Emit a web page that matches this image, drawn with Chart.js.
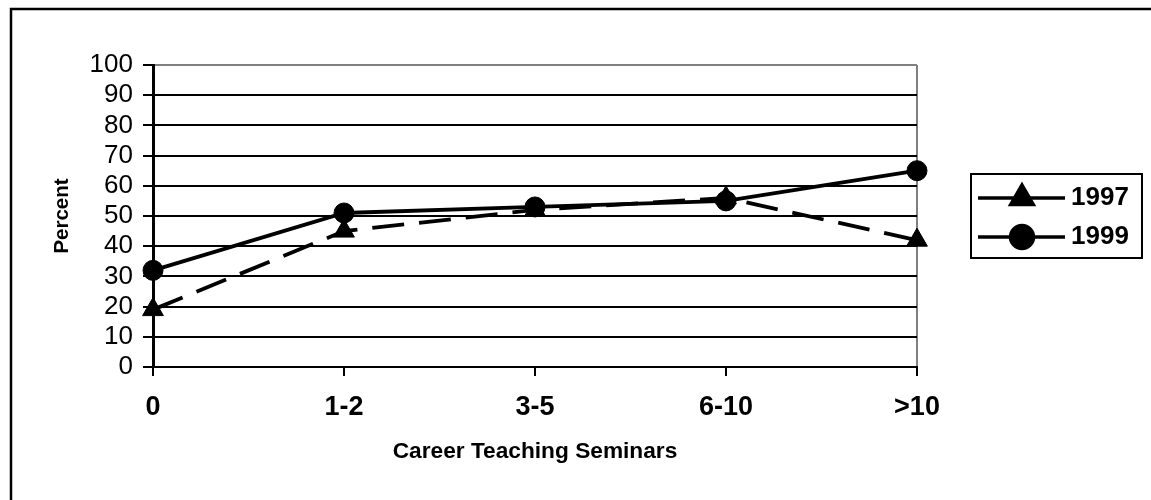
<!DOCTYPE html>
<html>
<head>
<meta charset="utf-8">
<script src="https://cdn.jsdelivr.net/npm/chart.js@4.4.1/dist/chart.umd.min.js"></script>
<style>
  html, body { margin: 0; padding: 0; background: #fff; }
  #wrap { width: 1151px; height: 500px; position: relative; }
</style>
</head>
<body>
<div id="wrap"><canvas id="c" width="1151" height="500"></canvas></div>
<script>
// Share of respondents by number of career teaching seminars attended
const categories = ['0', '1-2', '3-5', '6-10', '>10'];
const series1997 = [19, 45, 52, 56, 42];
const series1999 = [32, 51, 53, 55, 65];
const yTicks = [0, 10, 20, 30, 40, 50, 60, 70, 80, 90, 100];

const FONT = '"Liberation Sans", Arial, Helvetica, sans-serif';

// Thin frame along the top and left edges of the page
const framePlugin = {
  id: 'frame',
  beforeDraw(chart) {
    const ctx = chart.ctx;
    ctx.save();
    ctx.fillStyle = '#fff';
    ctx.fillRect(0, 0, chart.width, chart.height);
    ctx.strokeStyle = '#000';
    ctx.lineWidth = 2.5;
    ctx.beginPath();
    ctx.moveTo(11, chart.height);
    ctx.lineTo(11, 9);
    ctx.lineTo(chart.width, 9);
    ctx.stroke();
    ctx.restore();
  }
};

// Boxed legend with the line style and marker of each series
const boxLegend = {
  id: 'boxLegend',
  afterDraw(chart) {
    const ctx = chart.ctx;
    const box = { x: 971, y: 174, w: 171, h: 84 };
    ctx.save();
    ctx.strokeStyle = '#000';
    ctx.lineWidth = 2;
    ctx.strokeRect(box.x, box.y, box.w, box.h);
    const rows = [198, 237];
    chart.data.datasets.forEach((ds, i) => {
      const y = rows[i];
      ctx.strokeStyle = '#000';
      ctx.lineWidth = 3.5;
      ctx.setLineDash([]);
      ctx.beginPath();
      ctx.moveTo(978, y);
      ctx.lineTo(1065, y);
      ctx.stroke();
      Chart.helpers.drawPoint(ctx, {
        pointStyle: ds.pointStyle,
        radius: ds.pointStyle === 'triangle' ? 13 : 11.5,
        rotation: 0,
        borderWidth: 1
      }, 1022, y);
      ctx.fillStyle = '#000';
      ctx.fill();
      ctx.font = 'bold 26px ' + FONT;
      ctx.textBaseline = 'middle';
      ctx.textAlign = 'left';
      ctx.fillText(ds.label, 1071, y);
    });
    ctx.restore();
  }
};

new Chart(document.getElementById('c'), {
  type: 'line',
  data: {
    labels: categories,
    datasets: [
      {
        label: '1997',
        data: series1997,
        borderColor: '#000',
        backgroundColor: '#000',
        borderWidth: 3.8,
        borderDash: [32, 15],
        pointStyle: 'triangle',
        pointRadius: 12,
        pointBorderWidth: 1,
        tension: 0
      },
      {
        label: '1999',
        data: series1999,
        borderColor: '#000',
        backgroundColor: '#000',
        borderWidth: 3.8,
        pointStyle: 'circle',
        pointRadius: 10,
        pointBorderWidth: 1,
        tension: 0
      }
    ]
  },
  options: {
    responsive: false,
    animation: false,
    devicePixelRatio: 1,
    layout: { padding: { top: 65, right: 234, left: 0, bottom: 0 } },
    plugins: {
      legend: { display: false },
      tooltip: { enabled: false }
    },
    scales: {
      x: {
        offset: false,
        afterFit(s) { s.height = 133; },
        grid: {
          color: (c) => (c.index === categories.length - 1 ? '#808080' : 'rgba(0,0,0,0)'),
          lineWidth: 2,
          drawTicks: true,
          tickColor: '#000',
          tickLength: 9,
          tickWidth: 2
        },
        border: { color: '#000', width: 2 },
        ticks: {
          color: '#000',
          font: { family: FONT, size: 27, weight: 'bold' },
          padding: 15,
          maxRotation: 0,
          autoSkip: false
        },
        title: {
          display: true,
          text: 'Career Teaching Seminars',
          color: '#000',
          font: { family: FONT, size: 22.7, weight: 'bold' },
          padding: { top: 0, bottom: 35 }
        }
      },
      y: {
        min: 0,
        max: 100,
        afterFit(s) { s.width = 153; },
        afterBuildTicks(s) { s.ticks = yTicks.map(v => ({ value: v })); },
        grid: {
          color: (c) => (c.tick && c.tick.value === 100 ? '#808080' : '#000'),
          lineWidth: 2,
          tickColor: '#000',
          tickLength: 10,
          tickWidth: 2
        },
        border: { color: '#000', width: 3 },
        ticks: {
          color: '#000',
          font: { family: FONT, size: 26 },
          padding: 10,
          autoSkip: false
        },
        title: {
          display: true,
          text: 'Percent',
          color: '#000',
          font: { family: FONT, size: 20.5, weight: 'bold' },
          padding: { top: 50, bottom: 0 }
        }
      }
    }
  },
  plugins: [framePlugin, boxLegend]
});
</script>
</body>
</html>
